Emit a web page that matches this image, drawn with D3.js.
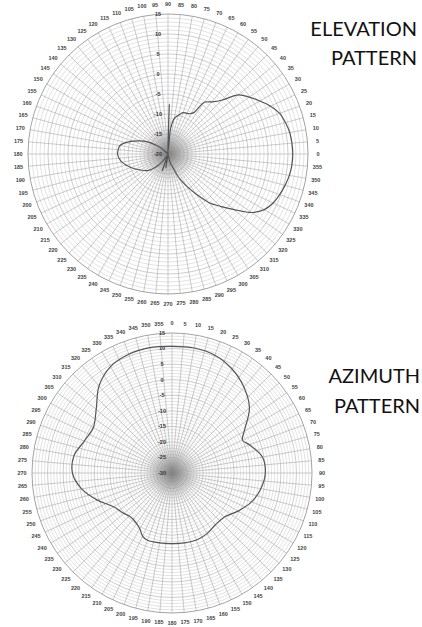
<!DOCTYPE html>
<html>
<head>
<meta charset="utf-8">
<script src="https://cdn.jsdelivr.net/npm/d3@7"></script>
<style>
  body { margin:0; background:#fff; }
  svg { display:block; }
</style>
</head>
<body>
<svg id="chart" width="422" height="627"></svg>
<script>
// elevation pattern: angle in degrees counter-clockwise from the right (0 = horizon)
const elevAngles = [0,5,10,15,20,25,30,35,40,45,50,55,58,62,66,70,75,80,84,86,88.5,91,95,100,120,140,145,150,155,160,165,170,175,180,185,190,195,200,210,220,230,240,248,251,254,258,261,264,270,280,285,290,293,296,300,305,310,315,320,325,330,335,340,345,350,355];
const elevGain   = [11.2,11.1,10.9,10.4,9.7,8.3,6.5,4.8,3.0,-1.0,-3.0,-4.2,-7.8,-8.6,-8.8,-9.0,-10.0,-11.0,-13.5,-19,-7.5,-19,-20,-21,-21,-17.5,-15.8,-13.8,-12.2,-10.6,-9.0,-7.8,-7.5,-7.4,-7.7,-8.3,-9.2,-10.1,-12.0,-13.6,-16.5,-19.5,-21,-15.5,-21,-21,-16.5,-21,-21,-19.5,-17.5,-16.5,-14.5,-12.8,-10.8,-7.8,-4.2,-1.5,1.6,5.5,7.8,9.0,9.7,10.3,10.8,11.1];

// azimuth pattern: angle in degrees clockwise from the top
const azAngles = [0,10,20,30,40,50,60,65,70,80,90,100,110,120,130,140,150,160,170,180,190,200,205,210,220,225,230,240,250,260,270,280,290,300,310,320,330,340,350];
const azGain   = [10.7,10.8,10.3,8.6,6.0,2.5,-3.2,-5.0,-3.5,-0.5,0.0,-1.0,-2.8,-5.5,-8.0,-8.3,-7.5,-7.1,-7.2,-7.3,-7.2,-7.0,-7.6,-9.3,-10.6,-10.5,-9.8,-8.3,-4.5,-0.5,2.0,2.0,0.0,-0.8,1.8,6.5,9.5,10.6,10.9];

const elevRadLabels = [15,10,5,0,-5,-10,-15,-20];
const azRadLabels   = [15,10,5,0,-5,-10,-15,-20,-25,-30];
const angleLabels   = d3.range(0, 360, 5);

const svg = d3.select('#chart');

const defs = svg.append('defs');
const grad = defs.append('radialGradient').attr('id','hub');
grad.append('stop').attr('offset','0%').attr('stop-color','#808080').attr('stop-opacity',0.9);
grad.append('stop').attr('offset','35%').attr('stop-color','#909090').attr('stop-opacity',0.6);
grad.append('stop').attr('offset','100%').attr('stop-color','#bbb').attr('stop-opacity',0);

function polar(opt) {
  const g = svg.append('g').attr('transform', `translate(${opt.cx},${opt.cy})`);
  const r = d3.scaleLinear().domain([opt.min, opt.max]).range([0, opt.R]).clamp(true);
  // toD3 converts the chart's angle convention into d3's (clockwise from top, radians)
  const toD3 = opt.toD3;

  // minor rings every 1 dB
  g.selectAll('circle.minor')
    .data(d3.range(opt.min + 1, opt.max, 1).filter(v => v % 5 !== 0))
    .join('circle')
    .attr('r', d => r(d))
    .attr('fill','none').attr('stroke','#c6c6c6').attr('stroke-width',0.5);

  // spokes every 5 degrees
  g.selectAll('line.spoke')
    .data(angleLabels)
    .join('line')
    .each(function(d) {
      const a = toD3(d);
      d3.select(this)
        .attr('x1', 0).attr('y1', 0)
        .attr('x2', opt.R * Math.sin(a)).attr('y2', -opt.R * Math.cos(a));
    })
    .attr('stroke','#999').attr('stroke-width',0.5);

  // major rings every 5 dB
  g.selectAll('circle.major')
    .data(d3.range(opt.min + 5, opt.max, 5))
    .join('circle')
    .attr('r', d => r(d))
    .attr('fill','none').attr('stroke','#aaa').attr('stroke-width',0.6);

  g.append('circle').attr('r', opt.R)
    .attr('fill','none').attr('stroke','#999').attr('stroke-width',0.9);

  g.append('circle').attr('r', 30).attr('fill','url(#hub)');

  // angle labels
  g.selectAll('text.ang')
    .data(angleLabels)
    .join('text')
    .attr('x', d => (opt.R + 10) * Math.sin(toD3(d)))
    .attr('y', d => -(opt.R + 10) * Math.cos(toD3(d)))
    .attr('dy','0.35em')
    .attr('text-anchor','middle')
    .attr('font-family','Liberation Sans, Arial, sans-serif')
    .attr('font-weight','bold')
    .attr('font-size', 5.5)
    .attr('fill','#444')
    .text(d => d);

  // radial labels on the vertical axis
  g.selectAll('text.rad')
    .data(opt.radLabels)
    .join('text')
    .attr('x', -10)
    .attr('y', d => -r(d))
    .attr('dy','0.35em')
    .attr('text-anchor','middle')
    .attr('font-family','Liberation Sans, Arial, sans-serif')
    .attr('font-weight','bold')
    .attr('font-size', 5.5)
    .attr('fill','#333')
    .text(d => d);

  const line = d3.lineRadial()
    .angle(d => toD3(d[0]))
    .radius(d => r(d[1]))
    .curve(d3.curveCatmullRomClosed.alpha(0.5));

  g.append('path')
    .datum(d3.zip(opt.angles, opt.gain))
    .attr('d', line)
    .attr('fill','none')
    .attr('stroke','#555')
    .attr('stroke-width',1.2);
}

polar({
  cx: 168, cy: 154, R: 140, min: -20, max: 15,
  toD3: deg => (90 - deg) * Math.PI / 180,
  radLabels: elevRadLabels, angles: elevAngles, gain: elevGain
});

polar({
  cx: 172, cy: 473, R: 140, min: -30, max: 15,
  toD3: deg => deg * Math.PI / 180,
  radLabels: azRadLabels, angles: azAngles, gain: azGain
});

const title = svg.append('g')
  .attr('font-family','Lato, "Open Sans", sans-serif')
  .attr('font-size', 20)
  .attr('fill','#111');

title.append('text').attr('x', 417).attr('y', 36).attr('text-anchor','end').text('ELEVATION');
title.append('text').attr('x', 417).attr('y', 65).attr('text-anchor','end').text('PATTERN');
title.append('text').attr('x', 420).attr('y', 383).attr('text-anchor','end').text('AZIMUTH');
title.append('text').attr('x', 420).attr('y', 413).attr('text-anchor','end').text('PATTERN');
</script>
</body>
</html>
